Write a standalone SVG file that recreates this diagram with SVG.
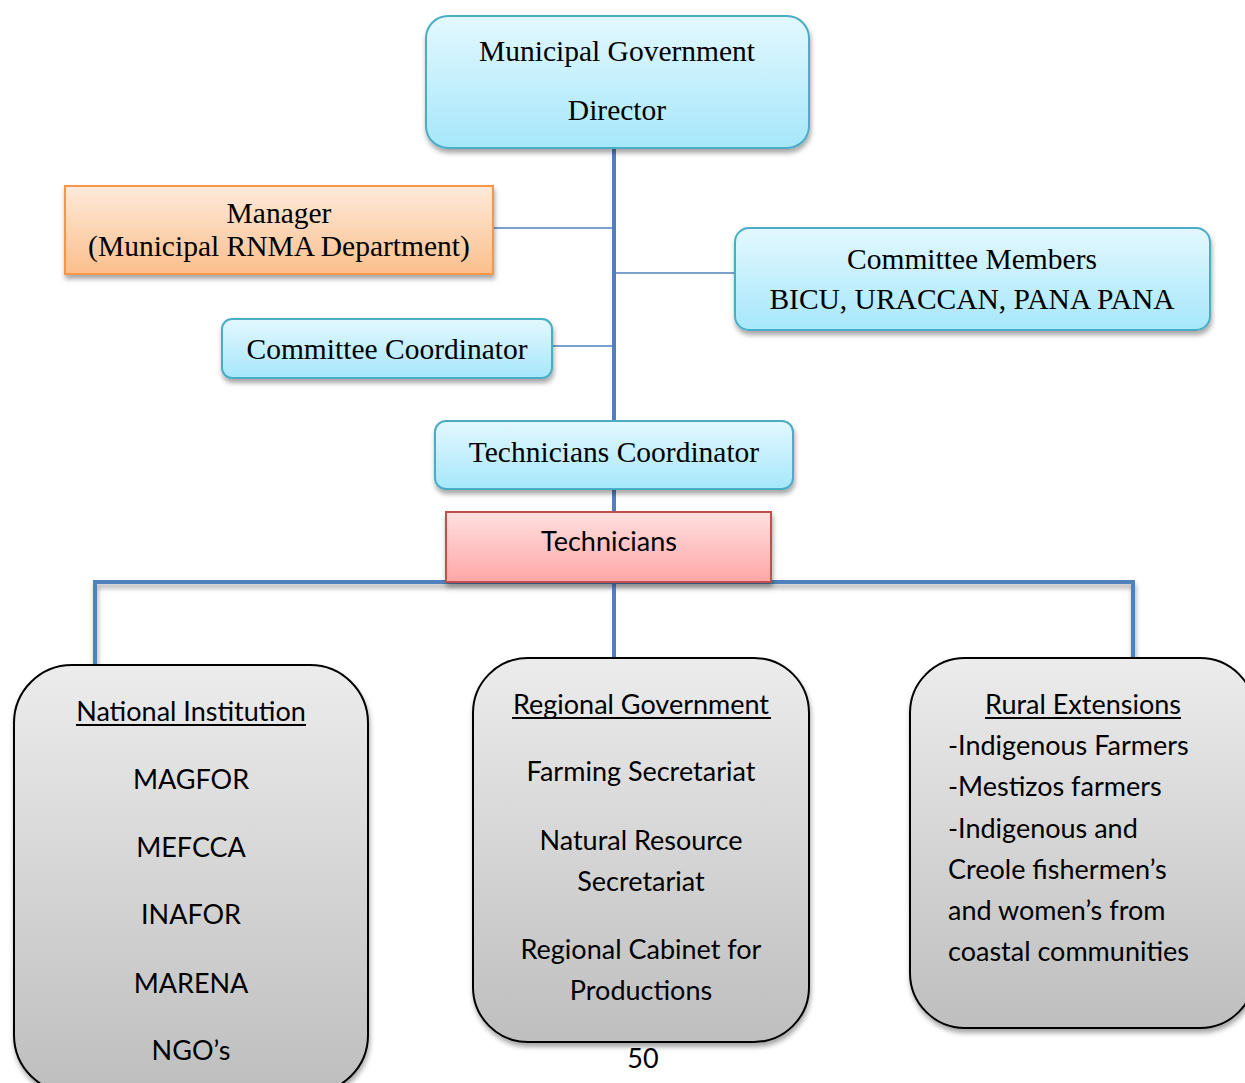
<svg xmlns="http://www.w3.org/2000/svg" width="1245" height="1083" viewBox="0 0 1245 1083">
<defs>
<linearGradient id="gBlue" x1="0" y1="0" x2="0" y2="1"><stop offset="0" stop-color="#e3f8fe"/><stop offset="1" stop-color="#a6e7fb"/></linearGradient>
<linearGradient id="gOrange" x1="0" y1="0" x2="0" y2="1"><stop offset="0" stop-color="#feeadb"/><stop offset="1" stop-color="#fbbf8c"/></linearGradient>
<linearGradient id="gRed" x1="0" y1="0" x2="0" y2="1"><stop offset="0" stop-color="#ffe0e0"/><stop offset="1" stop-color="#ffa6a6"/></linearGradient>
<linearGradient id="gGray" x1="0" y1="0" x2="0" y2="1"><stop offset="0" stop-color="#ececec"/><stop offset="1" stop-color="#bebebe"/></linearGradient>
<filter id="sh" x="-10%" y="-10%" width="120%" height="130%"><feDropShadow dx="1" dy="4" stdDeviation="2.5" flood-color="#000" flood-opacity="0.35"/></filter>
</defs>
<style>
.blue{fill:url(#gBlue);stroke:#4bacc6;stroke-width:2;filter:url(#sh)}
.orange{fill:url(#gOrange);stroke:#f79646;stroke-width:2;filter:url(#sh)}
.red{fill:url(#gRed);stroke:#c0504d;stroke-width:2;filter:url(#sh)}
.gray{fill:url(#gGray);stroke:#000;stroke-width:2;filter:url(#sh)}
.ser{font-family:"Liberation Serif","Times New Roman",serif;font-size:29.5px;fill:#000;text-anchor:middle}
.sans{font-family:Lato,"Open Sans",sans-serif;font-size:27px;fill:#000;text-anchor:middle}
.left{text-anchor:start}
.ul{stroke:#000;stroke-width:2}
.thick{stroke:#4f81bd;stroke-width:4;fill:none}
.thin{stroke:#4f81bd;stroke-width:1.5;fill:none}
</style>
<rect width="1245" height="1083" fill="#fff"/>
<g id="connectors">
<line class="thick" x1="614" y1="148" x2="614" y2="421"/>
<line class="thin" x1="493" y1="228" x2="614" y2="228"/>
<line class="thin" x1="614" y1="273" x2="735" y2="273"/>
<line class="thin" x1="552" y1="346" x2="614" y2="346"/>
<line class="thick" x1="614" y1="489" x2="614" y2="512"/>
<polyline class="thick" points="95,665 95,582 1133,582 1133,658" filter="url(#sh)"/>
<line class="thick" x1="614" y1="582" x2="614" y2="658"/>
</g>
<g id="director">
<rect class="blue" x="426" y="16" width="383" height="132" rx="22"/>
<text class="ser" x="617" y="61">Municipal Government</text>
<text class="ser" x="617" y="120">Director</text>
</g>
<g id="manager">
<rect class="orange" x="65" y="186" width="428" height="88"/>
<text class="ser" x="279" y="223">Manager</text>
<text class="ser" x="279" y="256">(Municipal RNMA Department)</text>
</g>
<g id="committee-members">
<rect class="blue" x="735" y="228" width="475" height="102" rx="14"/>
<text class="ser" x="972" y="269">Committee Members</text>
<text class="ser" x="972" y="309">BICU, URACCAN, PANA PANA</text>
</g>
<g id="committee-coordinator">
<rect class="blue" x="222" y="319" width="330" height="59" rx="10"/>
<text class="ser" x="387" y="359">Committee Coordinator</text>
</g>
<g id="technicians-coordinator">
<rect class="blue" x="435" y="421" width="358" height="68" rx="11"/>
<text class="ser" x="614" y="462">Technicians Coordinator</text>
</g>
<g id="technicians">
<rect class="red" x="446" y="512" width="325" height="70"/>
<text class="sans" x="609" y="551">Technicians</text>
</g>
<g id="national-institution">
<rect class="gray" x="14" y="665" width="354" height="428" rx="58"/>
<text class="sans" x="191" y="721">National Institution</text>
<line class="ul" x1="76" y1="725" x2="306" y2="725"/>
<text class="sans" x="191" y="789">MAGFOR</text>
<text class="sans" x="191" y="857">MEFCCA</text>
<text class="sans" x="191" y="924">INAFOR</text>
<text class="sans" x="191" y="993">MARENA</text>
<text class="sans" x="191" y="1060">NGO’s</text>
</g>
<g id="regional-government">
<rect class="gray" x="473" y="658" width="336" height="384" rx="55"/>
<text class="sans" x="641" y="714">Regional Government</text>
<line class="ul" x1="512" y1="718" x2="771" y2="718"/>
<text class="sans" x="641" y="781">Farming Secretariat</text>
<text class="sans" x="641" y="850">Natural Resource</text>
<text class="sans" x="641" y="891">Secretariat</text>
<text class="sans" x="641" y="959">Regional Cabinet for</text>
<text class="sans" x="641" y="1000">Productions</text>
</g>
<g id="rural-extensions">
<rect class="gray" x="910" y="658" width="345" height="370" rx="55"/>
<text class="sans" x="1083" y="714">Rural Extensions</text>
<line class="ul" x1="985" y1="718" x2="1181" y2="718"/>
<text class="sans left" x="948" y="755">-Indigenous Farmers</text>
<text class="sans left" x="948" y="796">-Mestizos farmers</text>
<text class="sans left" x="948" y="838">-Indigenous and</text>
<text class="sans left" x="948" y="879">Creole fishermen’s</text>
<text class="sans left" x="948" y="920">and women’s from</text>
<text class="sans left" x="948" y="961">coastal communities</text>
</g>
<text class="sans" x="643" y="1068">50</text>
</svg>
